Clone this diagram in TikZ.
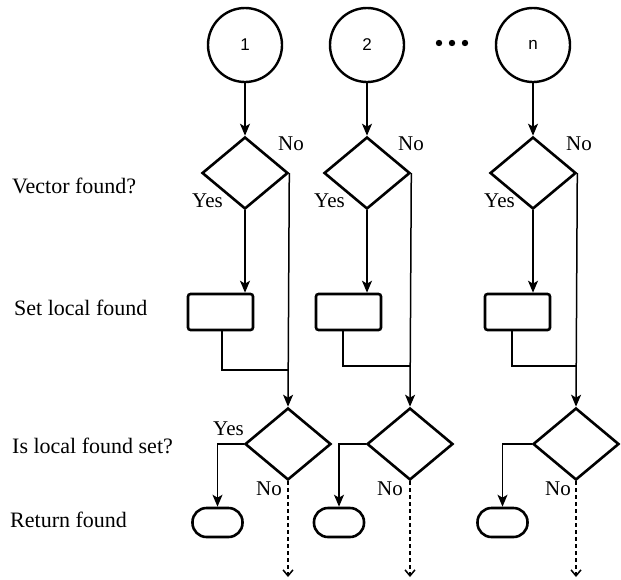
\documentclass[tikz,border=0pt]{standalone}
\usepackage{fontspec}
\setmainfont{Liberation Serif}
\newfontfamily\numfont{Liberation Sans}
\usetikzlibrary{shapes,arrows,positioning,calc,arrows.meta}

\tikzset{
    start/.style={draw, circle, line width=2.4pt, minimum size=74pt, inner sep=0pt, font=\numfont\fontsize{17}{20}\selectfont},
    decision/.style={draw, diamond, line width=2.6pt, minimum width=86pt, minimum height=72pt, inner sep=0pt},
    action/.style={draw, rectangle, rounded corners=2.5pt, line width=2.6pt, minimum width=65pt, minimum height=36pt, inner sep=0pt},
    terminal/.style={draw, rectangle, rounded corners=14pt, line width=2.6pt, minimum width=50pt, minimum height=29pt, inner sep=0pt},
    label/.style={anchor=base west, inner sep=0pt, font=\fontsize{22}{26}\selectfont},
    answer/.style={anchor=base west, inner sep=0pt, font=\fontsize{21}{25}\selectfont},
    line/.style={line width=1.5pt},
    arr/.style={line, -{Stealth[length=12pt,width=10pt,inset=3pt]}},
    dasharr/.style={line, dashed, dash pattern=on 4pt off 3pt, -{Straight Barb[length=6pt,width=10pt]}}
}

\begin{document}
\begin{tikzpicture}[x=1pt, y=-1pt]
    \useasboundingbox (0,0) rectangle (621,579);

    % row labels
    \node [label] (qvec) at (12,193) {Vector found?};
    \node [label] (qset) at (14,315) {Set local found};
    \node [label] (qloc) at (12,453) {Is local found set?};
    \node [label] (qret) at (10,527) {Return found};

    % column 1
    \node [start] (c1) at (245,45) {1};
    \node [decision] (d1) at (245,173) {};
    \node [action] (r1) at (220.5,312) {};
    \node [decision] (e1) at (288,444) {};
    \node [terminal] (t1) at (217.5,522.5) {};
    \coordinate (j1) at (222,370);
    \coordinate (o1) at (288,577);

    % column 2
    \node [start] (c2) at (367,45) {2};
    \node [decision] (d2) at (367,173) {};
    \node [action] (r2) at (348.5,312) {};
    \node [decision] (e2) at (410,444) {};
    \node [terminal] (t2) at (339,522.5) {};
    \coordinate (j2) at (343,366);
    \coordinate (o2) at (410,577);

    % column n
    \node [start] (c3) at (533,45) {n};
    \node [decision] (d3) at (533,173) {};
    \node [action] (r3) at (517.5,312) {};
    \node [decision] (e3) at (576,444) {};
    \node [terminal] (t3) at (502.5,522.5) {};
    \coordinate (j3) at (512,366);
    \coordinate (o3) at (576,577);

    \foreach \x in {439,452,465}
        \fill (\x,43) circle (3.2);

    % answers
    \node [answer] (n1) at (278,150) {No};
    \node [answer] (y1) at (192,207) {Yes};
    \node [answer] (n2) at (398,150) {No};
    \node [answer] (y2) at (314,207) {Yes};
    \node [answer] (n3) at (566,150) {No};
    \node [answer] (y3) at (484,207) {Yes};
    \node [answer] (y4) at (213,435) {Yes};
    \node [answer] (n4) at (256,495) {No};
    \node [answer] (n5) at (377,495) {No};
    \node [answer] (n6) at (545,495) {No};

    \draw [arr] (c1) -- (d1.north);
    \draw [arr] (d1.south) -- (d1.south |- r1.north);
    \draw [line] (r1.south -| j1) |- (j1 -| e1.north);
    \draw [arr] (d1.east) -- (e1.north);
    \draw [arr] (e1.west) -| (t1.north);
    \draw [dasharr] (e1.south) -- (o1);

    \draw [arr] (c2) -- (d2.north);
    \draw [arr] (d2.south) -- (d2.south |- r2.north);
    \draw [line] (r2.south -| j2) |- (j2 -| e2.north);
    \draw [arr] (d2.east) -- (e2.north);
    \draw [arr] (e2.west) -| (t2.north);
    \draw [dasharr] (e2.south) -- (o2);

    \draw [arr] (c3) -- (d3.north);
    \draw [arr] (d3.south) -- (d3.south |- r3.north);
    \draw [line] (r3.south -| j3) |- (j3 -| e3.north);
    \draw [arr] (d3.east) -- (e3.north);
    \draw [arr] (e3.west) -| (t3.north);
    \draw [dasharr] (e3.south) -- (o3);
\end{tikzpicture}
\end{document}
